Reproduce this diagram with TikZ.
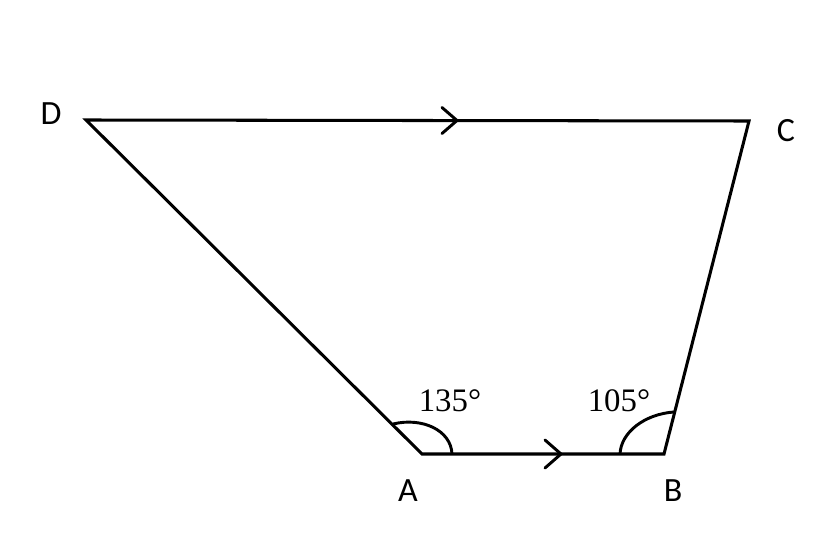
\documentclass[tikz,border=0pt]{standalone}
\usepackage{fontspec}
\setmainfont{Carlito}
\newfontfamily\anglefont{Liberation Serif}
\usetikzlibrary{calc}
\begin{document}
\begin{tikzpicture}[x=0.03cm,y=-0.03cm,
  edge/.style={line width=2.6pt,line join=miter,line cap=butt},
  arcline/.style={line width=2.5pt},
  vlabel/.style={inner sep=0pt,font=\fontsize{29}{29}\selectfont},
  alabel/.style={inner sep=0pt,font=\anglefont\fontsize{28}{28}\selectfont},
  chev/.style={line width=2.5pt,line cap=round,line join=miter}]
\useasboundingbox (0,0) rectangle (834,534);
\coordinate (D) at (86,120);
\coordinate (C) at (749,121);
\coordinate (B) at (664,454);
\coordinate (A) at (422,454);
\draw[edge] (D) -- (C) -- (B) -- (A) -- cycle;
% parallel arrows
\coordinate (t1) at (457,120.5);
\draw[chev] ($(t1)+(-15,-13)$) -- (t1) -- ($(t1)+(-15,13)$);
\coordinate (t2) at (561,454);
\draw[chev] ($(t2)+(-16,-14)$) -- (t2) -- ($(t2)+(-16,14)$);
% angle arcs
\draw[arcline] (452,454) .. controls (451,430) and (422,417) .. (393,424);
\draw[arcline] (620,454) .. controls (621,432) and (645,414) .. (674,412);
% labels
\node[vlabel] (lD) at (51,114) {D};
\node[vlabel] (lC) at (786,131) {C};
\node[vlabel] (lA) at (408,491) {A};
\node[vlabel] (lB) at (673,491) {B};
\node[alabel] (a1) at (450,401) {135°};
\node[alabel] (a2) at (619,401) {105°};
\end{tikzpicture}
\end{document}
